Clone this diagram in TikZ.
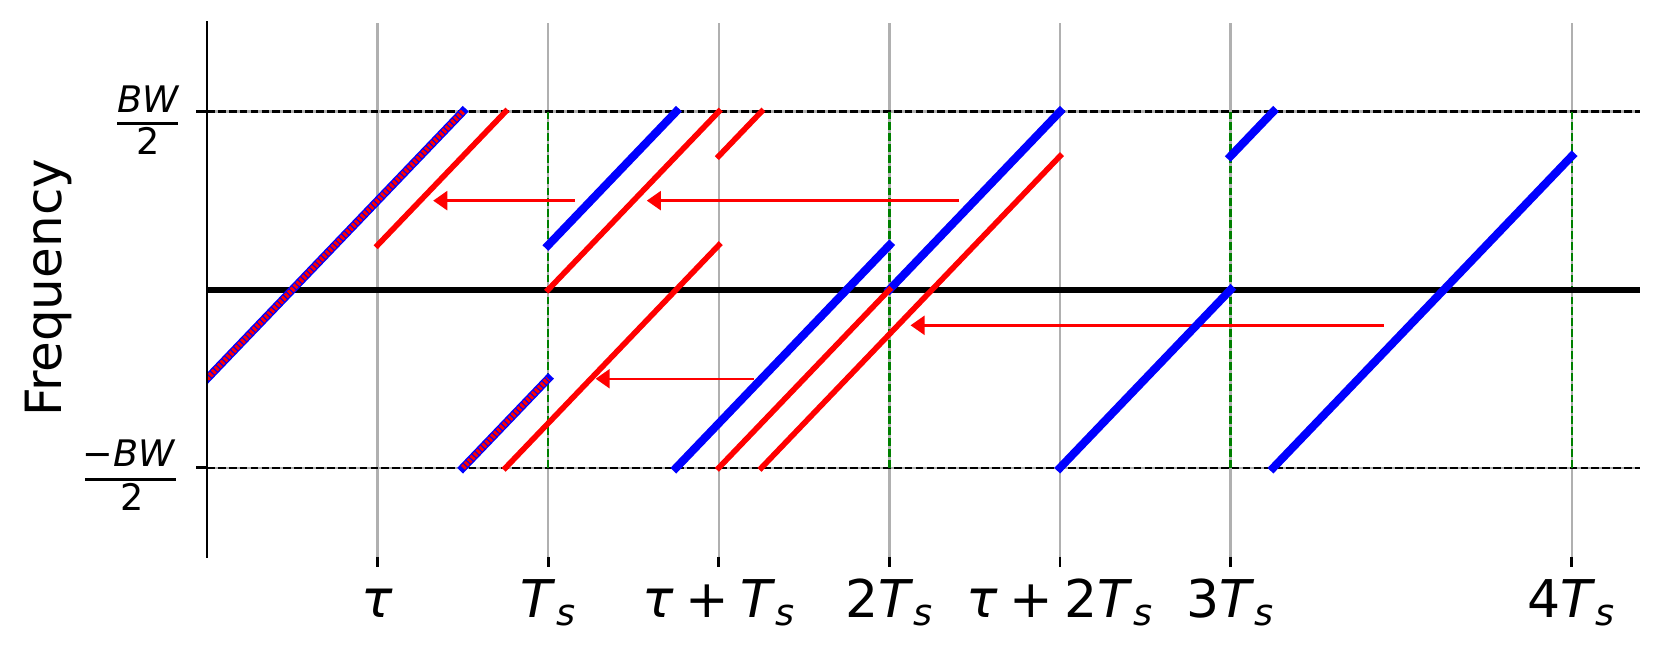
\documentclass[tikz,border=0pt]{standalone}
\usepackage{fontspec}
\setmainfont{DejaVu Sans}
\usetikzlibrary{arrows.meta}
\definecolor{mblue}{RGB}{0,0,255}
\definecolor{mred}{RGB}{255,0,0}
\definecolor{mgreen}{RGB}{0,128,0}
\definecolor{mgrid}{RGB}{176,176,176}
\newcommand\ssub[1]{\raisebox{-2.3pt}{\fontsize{10.4pt}{12pt}\selectfont\itshape #1}}
\newcommand\pls{\hspace{0.22em}+\hspace{0.22em}}
\newcommand\symT{\textit{T}\ssub{s}}
\newcommand\symtau{\textit{τ}}
\begin{document}
\begin{tikzpicture}[x=0.01cm,y=-0.01cm,
  gridl/.style={draw=mgrid, line width=0.65pt},
  bdash/.style={draw=black, line width=0.68pt, dash pattern=on 2.2pt off 0.9pt},
  gdash/.style={draw=mgreen, line width=0.65pt, dash pattern=on 2.2pt off 0.9pt},
  chirpb/.style={draw=mblue, line width=2.3pt, line cap=rect},
  chirpr/.style={draw=mred, line width=1.6pt, line cap=rect},
  hatchr/.style={draw=mred, line width=1.55pt, dash pattern=on 0.8pt off 0.4pt},
  shiftarrow/.style={draw=mred, line width=0.7pt, -{Triangle[length=4pt,width=5.4pt]}},
  zeroline/.style={draw=black, line width=1.75pt},
  spine/.style={draw=black, line width=0.75pt, line cap=rect},
  tickl/.style={draw=black, line width=0.75pt},
  ticklabel/.style={font=\fontsize{14.8pt}{18pt}\selectfont, anchor=base, inner sep=0pt},
  fraclabel/.style={font=\fontsize{10.4pt}{12pt}\selectfont, anchor=base, inner sep=0pt}]
\useasboundingbox (0,0) rectangle (1662,652);

% axis label
\node[rotate=90, anchor=base, inner sep=0pt, font=\fontsize{14.2pt}{17pt}\selectfont] (ylab) at (61,288) {Frequency};

% y tick labels
\node[fraclabel] (bwtopnum) at (148.3,112.7) {\textit{BW}};
\node[fraclabel] (bwtopden) at (148.3,155) {2};
\draw[line width=0.85pt] (117,123.3) -- (177.7,123.3);
\node[fraclabel] (bwbotnum) at (129,466.7) {−\textit{BW}};
\node[fraclabel] (bwbotden) at (131.7,511) {2};
\draw[line width=0.85pt] (85,479.3) -- (175.7,479.3);

% x tick labels
\node[ticklabel] (lt1) at (377.5,617.3) {\symtau};
\node[ticklabel] (lt2) at (548,617.3) {\symT};
\node[ticklabel] (lt3) at (718.5,617.3) {\symtau\pls\symT};
\node[ticklabel] (lt4) at (889,617.3) {2\symT};
\node[ticklabel] (lt5) at (1059.5,617.3) {\symtau\pls 2\symT};
\node[ticklabel] (lt6) at (1230,617.3) {3\symT};
\node[ticklabel] (lt7) at (1571,617.3) {4\symT};

\begin{scope}[shift={(207,289.7)}, x=3.41cm, y=1.78cm]
  % grid
  \foreach \t in {0.5,1,1.5,2,2.5,3,4} \draw[gridl] (\t,-1.5) -- (\t,1.5);
  \foreach \f in {-1,1} \draw[gridl] (0,\f) -- (4.2,\f);
  % x ticks
  \foreach \t in {0.5,1,1.5,2,2.5,3,4} \draw[tickl] (\t,-1.5) -- ++(0pt,-2.85pt);
  % y ticks
  \foreach \f in {-1,1} \draw[tickl] (0,\f) -- ++(-3.1pt,0pt);
  % band edges
  \foreach \f in {-1,1} \draw[bdash] (0,\f) -- (4.2,\f);
  % symbol boundaries
  \foreach \t in {1,2,3,4} \draw[gdash] (\t,-1) -- (\t,1);
  % shift arrows
  \coordinate (a1s) at (1.079,0.5);  \coordinate (a1e) at (0.663,0.5);
  \coordinate (a2s) at (2.204,0.5);  \coordinate (a2e) at (1.289,0.5);
  \coordinate (a3s) at (3.449,-0.2); \coordinate (a3e) at (2.062,-0.2);
  \coordinate (a4s) at (1.603,-0.5); \coordinate (a4e) at (1.139,-0.5);
  \draw[shiftarrow] (a1s) -- (a1e);
  \draw[shiftarrow] (a2s) -- (a2e);
  \draw[shiftarrow] (a3s) -- (a3e);
  \draw[shiftarrow] (a4s) -- (a4e);
  % zero frequency
  \draw[zeroline] (0,0) -- (4.2,0);
  % chirps
  \begin{scope}
    \clip (0,-1.5) rectangle (4.2,1.5);
    % blue
    \draw[chirpb] (0,-0.5) -- (0.75,1);
    \draw[chirpb] (0.75,-1) -- (1,-0.5);
    \draw[chirpb] (1,0.25) -- (1.375,1);
    \draw[chirpb] (1.375,-1) -- (2,0.25);
    \draw[chirpb] (2,0) -- (2.5,1);
    \draw[chirpb] (2.5,-1) -- (3,0);
    \draw[chirpb] (3,0.75) -- (3.125,1);
    \draw[chirpb] (3.125,-1) -- (4,0.75);
    % red hatched over first blue symbol
    \draw[hatchr] (0,-0.5) -- (0.75,1);
    \draw[hatchr] (0.75,-1) -- (1,-0.5);
    % red
    \draw[chirpr] (0.5,0.25) -- (0.875,1);
    \draw[chirpr] (0.875,-1) -- (1.5,0.25);
    \draw[chirpr] (1,0) -- (1.5,1);
    \draw[chirpr] (1.5,-1) -- (2,0);
    \draw[chirpr] (1.5,0.75) -- (1.625,1);
    \draw[chirpr] (1.625,-1) -- (2.5,0.75);
  \end{scope}
  % left spine
  \draw[spine] (0,-1.5) -- (0,1.5);
\end{scope}
\end{tikzpicture}
\end{document}
